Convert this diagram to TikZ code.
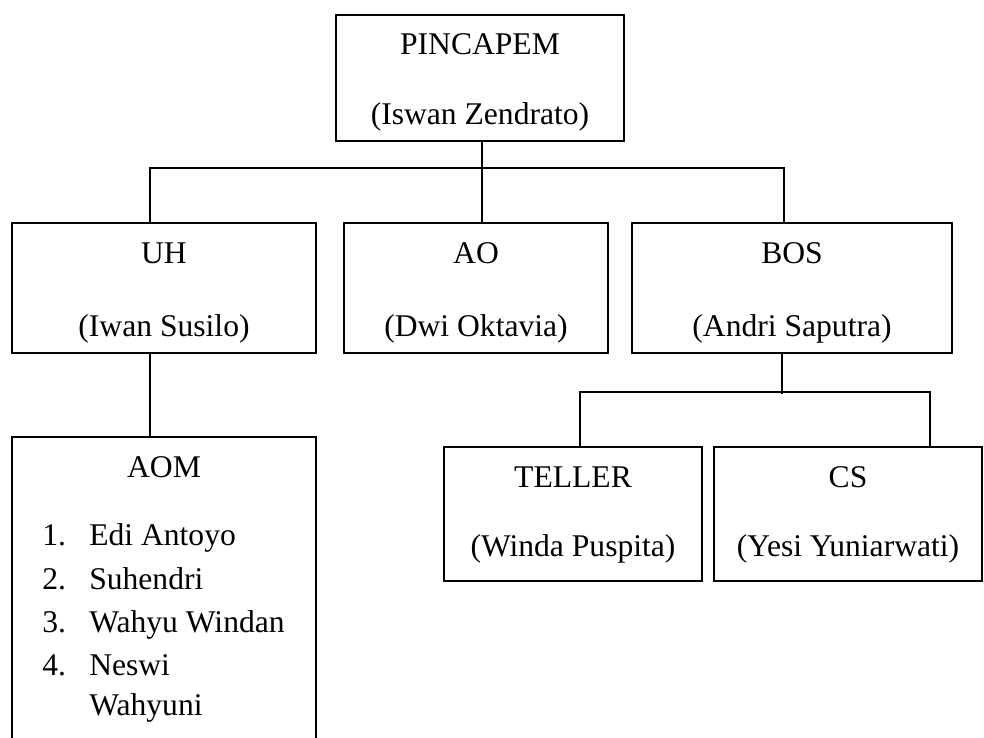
\documentclass[tikz,border=0pt]{standalone}
\usepackage{fontspec}
\setmainfont{Liberation Serif}
\usetikzlibrary{calc}
\begin{document}
\begin{tikzpicture}[x=0.75pt,y=-0.75pt,
  box/.style={draw, rectangle, inner sep=0pt, line width=1.4pt},
  lbl/.style={anchor=base, inner sep=0pt, font=\fontsize{23.7}{28}\selectfont},
  item/.style={anchor=base west, inner sep=0pt, font=\fontsize{23.7}{28}\selectfont},
  conn/.style={line width=1.4pt}]
\useasboundingbox (0,0) rectangle (984,738);
\clip (0,0) rectangle (984,738);
% boxes
\node[box, minimum width=216pt, minimum height=94.5pt] (P) at (480,78) {};
\node[box, minimum width=228pt, minimum height=97.5pt] (UH) at (164,288) {};
\node[box, minimum width=198pt, minimum height=97.5pt] (AO) at (476,288) {};
\node[box, minimum width=240pt, minimum height=97.5pt] (BOS) at (792,288) {};
\node[box, minimum width=228pt, minimum height=242.25pt] (AOM) at (164,598.5) {};
\node[box, minimum width=193.5pt, minimum height=100.5pt] (TELLER) at (573,514) {};
\node[box, minimum width=201pt, minimum height=100.5pt] (CS) at (848,514) {};
% texts
\node[lbl] (pt1) at (480,55) {PINCAPEM};
\node[lbl] (pt2) at (480,125) {(Iswan Zendrato)};
\node[lbl] (uht1) at (164,263) {UH};
\node[lbl] (uht2) at (164,336) {(Iwan Susilo)};
\node[lbl] (aot1) at (476,263) {AO};
\node[lbl] (aot2) at (476,336) {(Dwi Oktavia)};
\node[lbl] (bost1) at (792,263) {BOS};
\node[lbl] (bost2) at (792,336) {(Andri Saputra)};
\node[lbl] (tlt1) at (573,487) {TELLER};
\node[lbl] (tlt2) at (573,556) {(Winda Puspita)};
\node[lbl] (cst1) at (848,487) {CS};
\node[lbl] (cst2) at (848,556) {(Yesi Yuniarwati)};
\node[lbl] (aomt) at (164,477) {AOM};
\node[item] (n1) at (42,545) {1.};
\node[item] (n2) at (42,589) {2.};
\node[item] (n3) at (42,632) {3.};
\node[item] (n4) at (42,675) {4.};
\node[item] (m1) at (89,545) {Edi Antoyo};
\node[item] (m2) at (89,589) {Suhendri};
\node[item] (m3) at (89,632) {Wahyu Windan};
\node[item] (m4) at (89,675) {Neswi};
\node[item] (m5) at (89,715) {Wahyuni};
% connectors
\draw[conn] ($(P.south)+(2,0)$) -- ($(P.south |- AO.north)+(2,0)$);
\draw[conn] ($(UH.north)+(-14,0)$) -- ++(0,-54) -| ($(BOS.north)+(-8,0)$);
\draw[conn] ($(UH.south)+(-14,0)$) -- ($(AOM.north)+(-14,0)$);
\draw[conn] ($(BOS.south)+(-10,0)$) -- ($(BOS.south)+(-10,40)$);
\draw[conn] ($(TELLER.north)+(7,0)$) -- ++(0,-54) -| ($(CS.north)+(82,0)$);
\end{tikzpicture}
\end{document}
